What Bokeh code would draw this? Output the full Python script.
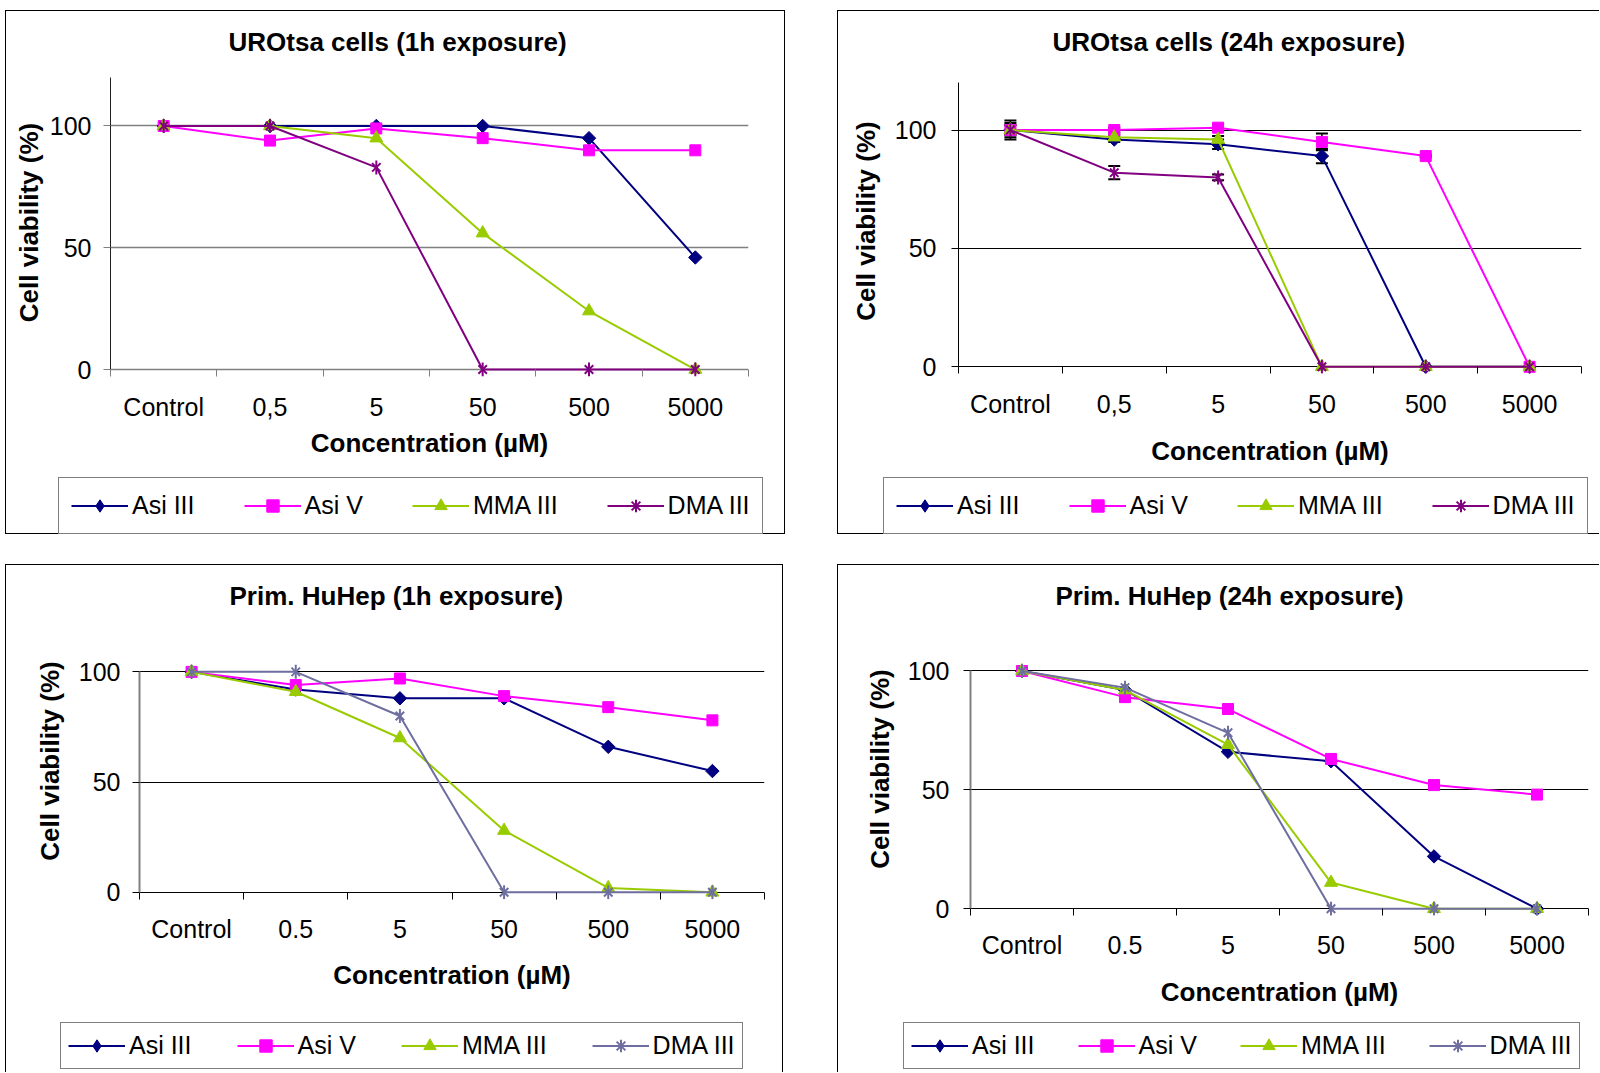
import math
from bokeh.plotting import figure
from bokeh.models import Range1d, FixedTicker, Legend, LegendItem, ColumnDataSource, Whisker, TeeHead, Spacer
from bokeh.layouts import row, column
from bokeh.embed import file_html
from bokeh.resources import INLINE

# ---------------- data ----------------
series_names = ["Asi III", "Asi V", "MMA III", "DMA III"]
categories_comma = ["Control", "0,5", "5", "50", "500", "5000"]
categories_dot = ["Control", "0.5", "5", "50", "500", "5000"]
y_ticks = [0, 50, 100]

uro_1h_asi3 = [100, 100, 100, 100, 95, 46]
uro_1h_asi5 = [100, 94, 99, 95, 90, 90]
uro_1h_mma3 = [100, 100, 95, 56, 24, 0]
uro_1h_dma3 = [100, 100, 83, 0, 0, 0]

uro_24h_asi3 = [100, 96, 94, 89, 0, 0]
uro_24h_asi5 = [100, 100, 101, 95, 89, 0]
uro_24h_mma3 = [100, 97, 96, 0, 0, 0]
uro_24h_dma3 = [100, 82, 80, 0, 0, 0]
uro_24h_asi3_err = [4.0, 1.0, 2.0, 3.0, 0, 0]
uro_24h_asi5_err = [2.0, 1.0, 1.5, 3.5, 0.5, 0]
uro_24h_mma3_err = [2.0, 1.0, 1.5, 0, 0, 0]
uro_24h_dma3_err = [3.0, 2.8, 1.2, 0, 0, 0]

hep_1h_asi3 = [100, 92, 88, 88, 66, 55]
hep_1h_asi5 = [100, 94, 97, 89, 84, 78]
hep_1h_mma3 = [100, 91, 70, 28, 2, 0]
hep_1h_dma3 = [100, 100, 80, 0, 0, 0]

hep_24h_asi3 = [100, 92, 66, 62, 22, 0]
hep_24h_asi5 = [100, 89, 84, 63, 52, 48]
hep_24h_mma3 = [100, 92, 69, 11, 0, 0]
hep_24h_dma3 = [100, 93, 74, 0, 0, 0]

# ---------------- styles ----------------
FONT = "Liberation Sans"
FS_T = "26px"   # titles
FS_L = "25px"   # tick labels / legend
C_ASI3 = "#000080"
C_ASI5 = "#FF00FF"
C_MMA3 = "#99CC00"
C_DMA_TOP = "#800080"
C_DMA_BOT = "#6E6EA0"
B = "1px solid #000"


def add_series(p, src, k, col, visible=True, for_legend=False):
    rs = [p.line("x", "y", source=src, line_color=col, line_width=2)]
    if k == 0:
        if for_legend:
            rs.append(p.scatter("x", "y", source=src, marker="diamond", size=13,
                                fill_color=col, line_color=col))
        else:
            rs.append(p.scatter("x", "y", source=src, marker="square", angle=math.pi / 4, size=9.5,
                                fill_color=col, line_color=col))
    elif k == 1:
        rs.append(p.scatter("x", "y", source=src, marker="square", size=11,
                            fill_color=col, line_color=col))
    elif k == 2:
        rs.append(p.scatter("x", "y", source=src, marker="triangle", size=13,
                            fill_color=col, line_color=col))
    else:
        if for_legend:
            rs.append(p.scatter("x", "y", source=src, marker="asterisk", size=13,
                                line_color=col, line_width=2))
        else:
            rs.append(p.scatter("x", "y", source=src, marker="x", size=12, line_color=col, line_width=2))
            rs.append(p.scatter("x", "y", source=src, marker="dash", angle=math.pi / 2, size=14,
                                line_color=col, line_width=2))
    for r in rs:
        r.visible = visible
    return rs


def make_panel(title, cats, data, errs, dma_color, cfg):
    p = figure(width=cfg["w"], height=cfg["hm"], output_backend="svg", toolbar_location=None, tools="",
               x_range=Range1d(0, len(cats)), y_range=Range1d(cfg["ystart"], cfg["yend"]),
               min_border_left=cfg["bl"], min_border_right=cfg["br"],
               min_border_top=cfg["bt"], min_border_bottom=cfg["bb"])
    p.outline_line_color = None
    p.background_fill_color = "white"
    p.border_fill_color = "white"
    p.styles = cfg["css_main"]

    p.title.text = title
    p.title.text_font = FONT
    p.title.text_font_size = FS_T
    p.title.text_font_style = "bold"
    p.title.text_color = "black"
    p.title.align = "left"
    p.title.offset = cfg["toff"]
    p.title.standoff = cfg["tstand"]

    xs = [i + 0.5 for i in range(len(cats))]

    xa = p.xaxis[0]
    xa.ticker = FixedTicker(ticks=xs, minor_ticks=list(range(len(cats) + 1)))
    xa.major_label_overrides = {x: c for x, c in zip(xs, cats)}
    xa.axis_line_color = None
    xa.major_tick_line_color = None
    xa.major_tick_in = 0
    xa.major_tick_out = 0
    xa.minor_tick_line_color = cfg["axcol"]
    xa.minor_tick_line_width = 1
    xa.minor_tick_in = 7
    xa.minor_tick_out = 0
    xa.major_label_text_font = FONT
    xa.major_label_text_font_size = FS_L
    xa.major_label_text_color = "black"
    xa.major_label_standoff = cfg["xls"]
    xa.axis_label = "Concentration (µM)"
    xa.axis_label_text_font = FONT
    xa.axis_label_text_font_size = FS_T
    xa.axis_label_text_font_style = "bold"
    xa.axis_label_text_color = "black"
    xa.axis_label_standoff = cfg["xas"]

    ya = p.yaxis[0]
    ya.ticker = FixedTicker(ticks=y_ticks, minor_ticks=[])
    ya.bounds = (0, cfg["ybound"])
    ya.axis_line_color = cfg["yaxcol"]
    ya.axis_line_width = cfg["yaxw"]
    ya.major_tick_line_color = cfg["gridcol"]
    ya.major_tick_in = 0
    ya.major_tick_out = 7
    ya.minor_tick_line_color = None
    ya.major_label_text_font = FONT
    ya.major_label_text_font_size = FS_L
    ya.major_label_text_color = "black"
    ya.major_label_standoff = cfg["yls"]
    ya.axis_label = "Cell viability (%)"
    ya.axis_label_text_font = FONT
    ya.axis_label_text_font_size = FS_T
    ya.axis_label_text_font_style = "bold"
    ya.axis_label_text_color = "black"
    ya.axis_label_standoff = cfg["yas"]

    p.xgrid.visible = False
    p.ygrid.grid_line_color = cfg["gridcol"]
    p.ygrid.grid_line_width = cfg["gridw"]

    colors = [C_ASI3, C_ASI5, C_MMA3, dma_color]

    if errs is not None:
        for vals, err in zip(data, errs):
            bx = [x for x, e in zip(xs, err) if e > 0]
            up = [v + e for v, e in zip(vals, err) if e > 0]
            lo = [v - e for v, e in zip(vals, err) if e > 0]
            esrc = ColumnDataSource(dict(x=bx, upper=up, lower=lo))
            w = Whisker(base="x", upper="upper", lower="lower", source=esrc,
                        line_color="black", line_width=1.5,
                        upper_head=TeeHead(size=12, line_color="black", line_width=2),
                        lower_head=TeeHead(size=12, line_color="black", line_width=2))
            p.add_layout(w)

    # legend lives in its own strip below the chart
    lf = figure(width=cfg["w"], height=cfg["hl"], output_backend="svg", toolbar_location=None, tools="",
                x_axis_type=None, y_axis_type=None,
                x_range=Range1d(0, len(cats)), y_range=Range1d(-1000, -900),
                min_border_left=0, min_border_right=0, min_border_top=0, min_border_bottom=0)
    lf.outline_line_color = None
    lf.background_fill_color = "white"
    lf.border_fill_color = "white"
    lf.grid.visible = False
    lf.styles = cfg["css_leg"]

    items = []
    for k, (name, vals, col) in enumerate(zip(series_names, data, colors)):
        src = ColumnDataSource(dict(x=xs, y=vals))
        add_series(p, src, k, col, True)
        lrs = add_series(lf, src, k, col, False, for_legend=True)
        items.append(LegendItem(label=name, renderers=lrs))

    lg = Legend(items=items, orientation="horizontal", location=cfg["lloc"],
                label_text_font=FONT, label_text_font_size=FS_L, label_text_color="black",
                glyph_width=57, glyph_height=31, label_standoff=4, spacing=cfg["lsp"],
                padding=cfg["lpad"], margin=0,
                border_line_color="black", border_line_width=1,
                background_fill_color="white", background_fill_alpha=1,
                inactive_fill_alpha=0)
    lf.add_layout(lg)
    return column(p, row(lf))


cfg1 = dict(w=780, hm=460, hl=64, bl=104, br=38, bt=57, bb=95, ystart=-2.87, yend=123.6, ybound=120,
            css_main={"border-left": B, "border-top": B, "border-right": B, "box-sizing": "border-box"},
            css_leg={"border-left": B, "border-bottom": B, "border-right": B, "box-sizing": "border-box"},
            toff=118, tstand=24, axcol="#808080", gridcol="#808080", gridw=1.5, yaxcol="#202020", yaxw=1,
            xls=16, xas=4, yls=12, yas=3, lloc=(52, 0), lsp=49, lpad=12)
cfg2 = dict(w=762, hm=460, hl=64, bl=120, br=19, bt=57, bb=98, ystart=-2.83, yend=126.0, ybound=120,
            css_main={"border-left": B, "border-top": B, "box-sizing": "border-box"},
            css_leg={"border-left": B, "border-bottom": B, "box-sizing": "border-box"},
            toff=94, tstand=24, axcol="black", gridcol="black", gridw=1, yaxcol="black", yaxw=1,
            xls=16, xas=15, yls=15, yas=11, lloc=(45, 0), lsp=49, lpad=12)
cfg3 = dict(w=778, hm=454, hl=54, bl=133, br=20, bt=57, bb=120, ystart=-3.27, yend=122.4, ybound=100,
            css_main={"border-left": B, "border-top": B, "border-right": B, "box-sizing": "border-box"},
            css_leg={"border-left": B, "border-right": B, "box-sizing": "border-box"},
            toff=90, tstand=24, axcol="black", gridcol="black", gridw=1, yaxcol="#808080", yaxw=2,
            xls=15, xas=14, yls=12, yas=11, lloc=(54, 3), lsp=45, lpad=7)
cfg4 = dict(w=762, hm=454, hl=54, bl=132, br=12, bt=57, bb=104, ystart=-2.86, yend=120.4, ybound=100,
            css_main={"border-left": B, "border-top": B, "box-sizing": "border-box"},
            css_leg={"border-left": B, "box-sizing": "border-box"},
            toff=85, tstand=24, axcol="black", gridcol="black", gridw=1, yaxcol="#808080", yaxw=2,
            xls=15, xas=15, yls=14, yas=10, lloc=(65, 3), lsp=43, lpad=7)

c1 = make_panel("UROtsa cells (1h exposure)", categories_comma,
                [uro_1h_asi3, uro_1h_asi5, uro_1h_mma3, uro_1h_dma3], None, C_DMA_TOP, cfg1)
c2 = make_panel("UROtsa cells (24h exposure)", categories_comma,
                [uro_24h_asi3, uro_24h_asi5, uro_24h_mma3, uro_24h_dma3],
                [uro_24h_asi3_err, uro_24h_asi5_err, uro_24h_mma3_err, uro_24h_dma3_err], C_DMA_TOP, cfg2)
c3 = make_panel("Prim. HuHep (1h exposure)", categories_dot,
                [hep_1h_asi3, hep_1h_asi5, hep_1h_mma3, hep_1h_dma3], None, C_DMA_BOT, cfg3)
c4 = make_panel("Prim. HuHep (24h exposure)", categories_dot,
                [hep_24h_asi3, hep_24h_asi5, hep_24h_mma3, hep_24h_dma3], None, C_DMA_BOT, cfg4)

layout = column(
    Spacer(width=1599, height=10),
    row(Spacer(width=5, height=524), c1, Spacer(width=52, height=524), c2),
    Spacer(width=1599, height=30),
    row(Spacer(width=5, height=508), c3, Spacer(width=54, height=508), c4),
)

open("out.html", "w").write(file_html(layout, INLINE))
